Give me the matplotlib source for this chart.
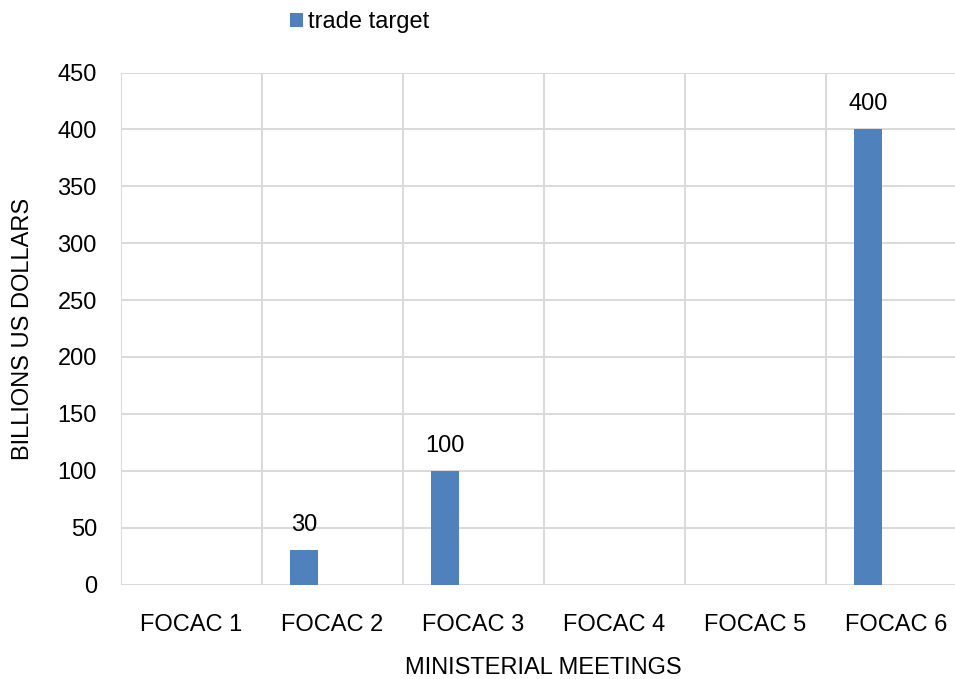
import numpy as np
import matplotlib
matplotlib.use("Agg")
import matplotlib.pyplot as plt
from matplotlib.ticker import FixedLocator

plt.rcParams['font.family'] = ['Liberation Sans', 'DejaVu Sans']

# ---- data ----
categories = ["FOCAC 1", "FOCAC 2", "FOCAC 3", "FOCAC 4", "FOCAC 5", "FOCAC 6"]
trade_target = [np.nan, 30, 100, np.nan, np.nan, 400]
series_name = "trade target"
y_ticks = [0, 50, 100, 150, 200, 250, 300, 350, 400, 450]
x_title = "MINISTERIAL MEETINGS"
y_title = "BILLIONS US DOLLARS"

W, H = 955, 679
fig = plt.figure(figsize=(W / 100, H / 100), dpi=100)
fig.patch.set_facecolor("white")

left, right, top, bottom = 120.5, 967.0, 72.5, 584.5
ax = fig.add_axes([left / W, (H - bottom) / H, (right - left) / W, (bottom - top) / H])

fs = 17
grid_c = "#d9d9d9"
bar_c = "#4f81bd"

x = np.arange(len(categories))
bw = 0.2
bars = ax.bar(x - bw, trade_target, width=bw, color=bar_c, label=series_name, zorder=3)

for xi, v in zip(x, trade_target):
    if not np.isnan(v):
        ax.annotate(f"{v:g}", (xi - bw, v), xytext=(0, 18), textcoords="offset points",
                    ha="center", va="center", fontsize=fs, color="black")

ax.set_xlim(-0.5, len(categories) - 0.5)
ax.set_ylim(0, 450)
ax.set_yticks(y_ticks)
ax.set_xticks(x)
ax.set_xticklabels(categories)
ax.xaxis.set_minor_locator(FixedLocator(np.arange(-0.5, len(categories), 1.0)))

ax.grid(True, axis="y", which="major", color=grid_c, linewidth=1.4, zorder=0)
ax.grid(True, axis="x", which="minor", color=grid_c, linewidth=1.4, zorder=0)
ax.grid(False, axis="x", which="major")
for s in ax.spines.values():
    s.set_visible(False)

ax.tick_params(axis="both", which="both", length=0)
ax.tick_params(axis="y", pad=17, labelsize=fs, labelcolor="black")
ax.tick_params(axis="x", pad=21, labelsize=fs, labelcolor="black")

ax.set_xlabel(x_title, fontsize=fs, color="black")
ax.xaxis.set_label_coords(0.5, (bottom - 667.5) / (bottom - top))
ax.xaxis.label.set_va("center")
ax.set_ylabel(y_title, fontsize=fs, color="black")
ax.yaxis.set_label_coords((23 - left) / (right - left), 0.5)
ax.yaxis.label.set_va("center")

fig.legend(handles=[bars], labels=[series_name], loc="center left",
           bbox_to_anchor=(290 / W, 1 - 22.3 / H), frameon=False, fontsize=fs,
           borderpad=0, borderaxespad=0, handlelength=0.53, handleheight=0.53,
           handletextpad=0.22)

fig.savefig("out.png", dpi=100, facecolor="white")
